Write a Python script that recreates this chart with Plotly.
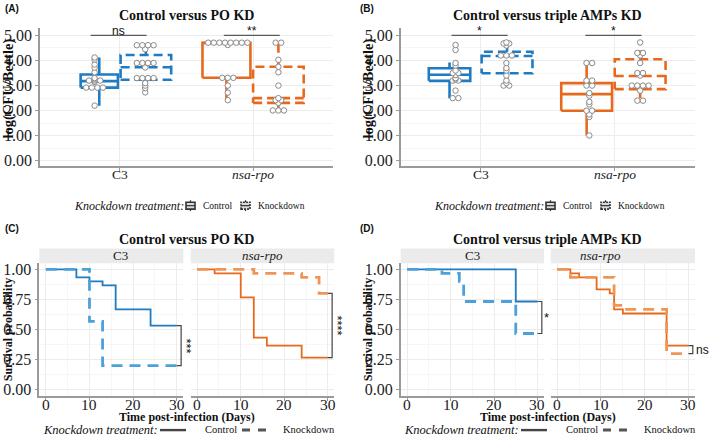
import plotly.graph_objects as go
import numpy as np

W, H = 709, 440
SERIF = "Times New Roman"
SANS = "Arial"

# ---------------- data ----------------
CATS = ["C3", "nsa-rpo"]
CAT_TICKS = ["C3", "<i>nsa-rpo</i>"]
BOX_TICKS = [0, 1, 2, 3, 4, 5]

# box stats per category: [lower whisker, q1, median, q3, upper whisker]
A_CTRL_STATS = [[2.20, 2.92, 3.18, 3.44, 4.12], [2.42, 3.31, 4.70, 4.71, 4.71]]
A_KD_STATS = [[2.73, 3.23, 3.73, 4.22, 4.61], [2.01, 2.31, 2.50, 3.75, 4.71]]
A_CTRL_PTS = [
    [4.12, 4.04, 3.84, 3.72, 3.53, 3.30, 3.25, 3.20, 3.20, 3.20, 3.15, 2.92, 2.92, 2.92, 2.92, 2.20],
    [4.71, 4.71, 4.71, 4.71, 4.71, 4.71, 4.71, 4.71, 4.62, 3.31, 3.31, 3.31, 3.00, 2.72, 2.42],
]
A_KD_PTS = [
    [4.61, 4.61, 4.61, 4.61, 4.45, 3.90, 3.90, 3.90, 3.90, 3.72, 3.30, 3.30, 3.30, 3.30, 3.10, 3.00, 2.90, 2.73],
    [4.71, 4.71, 4.03, 3.75, 3.53, 3.00, 2.50, 2.42, 2.42, 2.31, 2.01, 2.01, 2.01],
]

B_CTRL_STATS = [[2.50, 3.19, 3.43, 3.69, 3.92], [1.01, 2.00, 2.66, 3.10, 3.91]]
B_KD_STATS = [[3.00, 3.49, 4.18, 4.35, 4.73], [2.40, 2.86, 3.38, 4.05, 4.73]]
B_CTRL_PTS = [
    [4.62, 4.42, 3.90, 3.80, 3.60, 3.50, 3.50, 3.42, 3.30, 3.25, 3.20, 3.20, 2.80, 2.50, 2.50],
    [3.90, 3.90, 3.20, 3.20, 3.00, 3.00, 2.70, 2.60, 2.35, 2.25, 2.00, 2.00, 1.85, 1.75, 1.01],
]
B_KD_PTS = [
    [4.72, 4.68, 4.68, 4.60, 4.20, 4.20, 4.20, 3.90, 3.70, 3.60, 3.40, 3.20, 3.10, 3.00, 3.00],
    [4.72, 4.30, 4.30, 4.20, 3.90, 3.50, 3.50, 3.40, 3.00, 3.00, 3.00, 3.00, 2.80, 2.40, 2.40],
]
A_SIG = ["ns", "**"]
B_SIG = ["*", "*"]

# survival: step times and survival probabilities
C_C3_CTRL_T = [0, 7, 10, 13, 16, 24, 30]
C_C3_CTRL_S = [1.0, 0.933, 0.900, 0.867, 0.667, 0.533, 0.533]
C_C3_KD_T = [0, 10, 13, 30]
C_C3_KD_S = [1.0, 0.567, 0.200, 0.200]
C_NSA_CTRL_T = [0, 4, 10, 13, 16, 24, 30]
C_NSA_CTRL_S = [1.0, 0.967, 0.767, 0.433, 0.367, 0.267, 0.267]
C_NSA_KD_T = [0, 13, 24, 28, 30]
C_NSA_KD_S = [1.0, 0.967, 0.933, 0.800, 0.800]

D_C3_CTRL_T = [0, 25, 30]
D_C3_CTRL_S = [1.0, 0.733, 0.733]
D_C3_KD_T = [0, 8, 12, 13, 25, 30]
D_C3_KD_S = [1.0, 0.967, 0.900, 0.733, 0.467, 0.467]
D_NSA_CTRL_T = [0, 3, 5, 9, 12, 13, 15, 25, 30]
D_NSA_CTRL_S = [1.0, 0.967, 0.933, 0.833, 0.800, 0.667, 0.633, 0.367, 0.367]
D_NSA_KD_T = [0, 3, 13, 15, 25, 30]
D_NSA_KD_S = [1.0, 0.933, 0.700, 0.667, 0.300, 0.300]
C_SIG = ["***", "****"]
D_SIG = ["*", "ns"]
SURV_TICKS = [0, 0.25, 0.5, 0.75, 1.0]
DAY_TICKS = [0, 10, 20, 30]

# ---------------- style ----------------
BLUE = "#1f7bc2"
BLUE_L = "#4da1d9"
ORANGE = "#e6691d"
ORANGE_L = "#ef9657"
CAT_COLORS = [BLUE, ORANGE]
GRID = "#ececec"
AXLINE = "#9a9a9a"
BOX_DASH = "9px,5px"
SURV_DASH = "11px,7px"
# box geometry (offset of centre from category, width) per panel [cat][ctrl/kd]
A_BOX_GEOM = [[(-0.155, 0.28), (0.195, 0.38)], [(-0.20, 0.36), (0.19, 0.38)]]
B_BOX_GEOM = [[(-0.235, 0.31), (0.195, 0.38)], [(-0.21, 0.38), (0.19, 0.38)]]
PT_OFF = (-0.19, 0.19)

BOX_RANGE_X = [0.4, 2.6]
BOX_RANGE_Y = [-0.21, 5.28]
DAY_RANGE = [-1.5, 31.5]
SURV_RANGE = [-0.05, 1.05]

def fx(p):
    return p / W

def fy(p):
    return 1 - p / H

TOP_DOM_Y = [fy(166), fy(26.7)]
BOT_DOM_Y = [fy(398.3), fy(264.3)]
DOM = {
    "A": [fx(40), fx(333)],
    "B": [fx(400.7), fx(695)],
    "CL": [fx(39.3), fx(183.3)],
    "CR": [fx(190.7), fx(334.3)],
    "DL": [fx(400.7), fx(544)],
    "DR": [fx(550.7), fx(695)],
}

fig = go.Figure()


def swarm(vals, center, step=0.042):
    vals = np.round(np.asarray(vals, float), 2)
    xs, ys = [], []
    for v in sorted(set(vals.tolist())):
        n = int((vals == v).sum())
        for i in range(n):
            xs.append(center + (i - (n - 1) / 2) * step)
            ys.append(v)
    return xs, ys


def box_path(stats, xc, w):
    lo, q1, md, q3, hi = stats
    x0, x1 = xc - w / 2, xc + w / 2
    xs = [x0, x1, x1, x0, x0, None, x0, x1, None, xc, xc, None, xc, xc]
    ys = [q1, q1, q3, q3, q1, None, md, md, None, q3, hi, None, q1, lo]
    return xs, ys


def box_panel(xa, ya, ctrl_stats, kd_stats, ctrl_pts, kd_pts, geom, sig):
    for ci in range(len(CATS)):
        cat = ci + 1
        col = CAT_COLORS[ci]
        for k, (stats, dash) in enumerate([(ctrl_stats[ci], "solid"), (kd_stats[ci], BOX_DASH)]):
            off, w = geom[ci][k]
            bx, by = box_path(stats, cat + off, w)
            fig.add_trace(go.Scatter(x=bx, y=by, mode="lines", xaxis=xa, yaxis=ya,
                                     line=dict(color=col, width=2.6, dash=dash),
                                     showlegend=False, hoverinfo="skip"))
        for k, pts in enumerate([ctrl_pts[ci], kd_pts[ci]]):
            px_, py_ = swarm(pts, cat + PT_OFF[k])
            fig.add_trace(go.Scatter(x=px_, y=py_, mode="markers", xaxis=xa, yaxis=ya,
                                     marker=dict(symbol="circle", size=5.5, color="white",
                                                 line=dict(color="#8a8a8a", width=1)),
                                     showlegend=False, hoverinfo="skip", cliponaxis=False))
        # significance bar
        fig.add_trace(go.Scatter(x=[cat - 0.22, cat + 0.2], y=[5.0, 5.0], mode="lines",
                                 xaxis=xa, yaxis=ya, line=dict(color="#5a5a5a", width=1.3),
                                 showlegend=False, hoverinfo="skip"))
        fig.add_annotation(x=cat - 0.01, y=5.0, xref=xa, yref=ya, text=sig[ci], showarrow=False,
                           yanchor="bottom", yshift=-5, font=dict(family=SANS, size=12, color="#111"))
        # category label (axis tick label)
        fig.add_annotation(x=cat, y=fy(174.5), xref=xa, yref="paper", text=CAT_TICKS[ci], showarrow=False,
                           yanchor="middle", font=dict(family=SERIF, size=13.5, color="#222"))


box_panel("x", "y", A_CTRL_STATS, A_KD_STATS, A_CTRL_PTS, A_KD_PTS, A_BOX_GEOM, A_SIG)
box_panel("x2", "y2", B_CTRL_STATS, B_KD_STATS, B_CTRL_PTS, B_KD_PTS, B_BOX_GEOM, B_SIG)


def surv(xa, ya, t, s, color, dash, width):
    fig.add_trace(go.Scatter(x=t, y=s, mode="lines", line_shape="hv", xaxis=xa, yaxis=ya,
                             line=dict(color=color, width=width, dash=dash),
                             showlegend=False, hoverinfo="skip"))


def to_paper(v, dom, rng):
    return dom[0] + (v - rng[0]) / (rng[1] - rng[0]) * (dom[1] - dom[0])


def bracket(xa, ya, s1, s2, label, dom_x, textangle, xshift, size):
    fig.add_trace(go.Scatter(x=[30, 31, 31, 30], y=[s1, s1, s2, s2], mode="lines", xaxis=xa, yaxis=ya,
                             line=dict(color="#444", width=1.2), showlegend=False, hoverinfo="skip"))
    px_ = to_paper(31, dom_x, DAY_RANGE)
    py_ = to_paper((s1 + s2) / 2, BOT_DOM_Y, SURV_RANGE)
    fig.add_annotation(x=px_, y=py_, xref="paper", yref="paper", text=label, showarrow=False,
                       textangle=textangle, xanchor="center", yanchor="middle", xshift=xshift,
                       font=dict(family=SANS, size=size, color="#111"))


surv("x3", "y3", C_C3_CTRL_T, C_C3_CTRL_S, BLUE, "solid", 1.8)
surv("x3", "y3", C_C3_KD_T, C_C3_KD_S, BLUE_L, SURV_DASH, 2.8)
surv("x4", "y4", C_NSA_CTRL_T, C_NSA_CTRL_S, ORANGE, "solid", 1.8)
surv("x4", "y4", C_NSA_KD_T, C_NSA_KD_S, ORANGE_L, SURV_DASH, 2.8)
surv("x5", "y5", D_C3_CTRL_T, D_C3_CTRL_S, BLUE, "solid", 1.8)
surv("x5", "y5", D_C3_KD_T, D_C3_KD_S, BLUE_L, SURV_DASH, 2.8)
surv("x6", "y6", D_NSA_CTRL_T, D_NSA_CTRL_S, ORANGE, "solid", 1.8)
surv("x6", "y6", D_NSA_KD_T, D_NSA_KD_S, ORANGE_L, SURV_DASH, 2.8)

bracket("x3", "y3", C_C3_CTRL_S[-1], C_C3_KD_S[-1], C_SIG[0], DOM["CL"], 90, 5, 13)
bracket("x4", "y4", C_NSA_KD_S[-1], C_NSA_CTRL_S[-1], C_SIG[1], DOM["CR"], 90, 5, 13)
bracket("x5", "y5", D_C3_CTRL_S[-1], D_C3_KD_S[-1], D_SIG[0], DOM["DL"], 0, 5, 13)
bracket("x6", "y6", D_NSA_CTRL_S[-1], D_NSA_KD_S[-1], D_SIG[1], DOM["DR"], 0, 10, 12)

# ---------------- axes ----------------
tickfont = dict(family=SERIF, size=16, color="#222")
common = dict(showline=True, linecolor=AXLINE, linewidth=1.5, ticks="outside", ticklen=3,
              tickcolor=AXLINE, tickwidth=1, gridcolor=GRID, gridwidth=1, zeroline=False,
              tickfont=tickfont, fixedrange=True)

for xa, ya, key in [("xaxis", "yaxis", "A"), ("xaxis2", "yaxis2", "B")]:
    fig.layout[xa] = dict(domain=DOM[key], range=BOX_RANGE_X, tickvals=[1, 2], showticklabels=False,
                          anchor=ya.replace("axis", ""), **common)
    fig.layout[ya] = dict(domain=TOP_DOM_Y, range=BOX_RANGE_Y, tickvals=BOX_TICKS, tickformat=".2f",
                          anchor=xa.replace("axis", ""), minor=dict(dtick=0.5, showgrid=True, gridcolor="#f6f6f6"),
                          **common)

for i, key in [(3, "CL"), (4, "CR"), (5, "DL"), (6, "DR")]:
    fig.layout[f"xaxis{i}"] = dict(domain=DOM[key], range=DAY_RANGE, tickvals=DAY_TICKS, showticklabels=False,
                                   anchor=f"y{i}", minor=dict(dtick=5, showgrid=True, gridcolor="#f6f6f6"),
                                   **common)
    for d in DAY_TICKS:
        fig.add_annotation(x=d, y=fy(407), xref=f"x{i}", yref="paper", text=str(d), showarrow=False,
                           yanchor="middle", font=dict(family=SERIF, size=15.5, color="#222"))
    left = key.endswith("L")
    yax = dict(domain=BOT_DOM_Y, range=SURV_RANGE, tickvals=SURV_TICKS, tickformat=".2f",
               anchor=f"x{i}", minor=dict(dtick=0.125, showgrid=True, gridcolor="#f6f6f6"), **common)
    if not left:
        yax.update(showticklabels=False, showline=False, ticks="")
    fig.layout[f"yaxis{i}"] = yax

# ---------------- text, strips, legends ----------------
def ann(x, y, text, size, family=SERIF, bold=False, italic=False, xanchor="center", angle=0, color="#111"):
    if bold:
        text = f"<b>{text}</b>"
    if italic:
        text = f"<i>{text}</i>"
    fig.add_annotation(x=fx(x), y=fy(y), xref="paper", yref="paper", text=text, showarrow=False,
                       xanchor=xanchor, yanchor="middle", textangle=angle,
                       font=dict(family=family, size=size, color=color))

ann(3, 7, "(A)", 10, SANS, bold=True, xanchor="left")
ann(358, 7, "(B)", 10, SANS, bold=True, xanchor="left")
ann(3, 229, "(C)", 10, SANS, bold=True, xanchor="left")
ann(358, 229, "(D)", 10, SANS, bold=True, xanchor="left")
ann(186.5, 14, "Control versus PO KD", 14, bold=True)
ann(547, 14, "Control versus triple AMPs KD", 14, bold=True)
ann(186.5, 240, "Control versus PO KD", 14, bold=True)
ann(547, 240, "Control versus triple AMPs KD", 14, bold=True)
ann(8.5, 88, "log(CFU/Beetle)", 14.5, bold=True, angle=-90)
ann(368.5, 88, "log(CFU/Beetle)", 14.5, bold=True, angle=-90)
ann(8, 332, "Survival probability", 12, bold=True, angle=-90)
ann(368, 332, "Survival probability", 12, bold=True, angle=-90)
ann(187, 420, "Time post-infection (Days)", 12, bold=True)
ann(548, 420, "Time post-infection (Days)", 12, bold=True)

# strips
for key in ["CL", "CR", "DL", "DR"]:
    d = DOM[key]
    fig.add_shape(type="rect", xref="paper", yref="paper", x0=d[0], x1=d[1], y0=fy(264.3), y1=fy(249.3),
                  fillcolor="#ebebeb", line=dict(width=0), layer="below")
    label = CAT_TICKS[0] if key.endswith("L") else CAT_TICKS[1]
    fig.add_annotation(x=(d[0] + d[1]) / 2, y=fy(256.8), xref="paper", yref="paper", text=label,
                       showarrow=False, font=dict(family=SERIF, size=13, color="#222"))

# box legends
def box_icon(x, y, dash):
    w, h = 9, 7
    fig.add_shape(type="rect", xref="paper", yref="paper", x0=fx(x), x1=fx(x + w), y0=fy(y + h / 2),
                  y1=fy(y - h / 2), line=dict(color="#333", width=1.6, dash=dash), fillcolor="#d9d9d9")
    fig.add_shape(type="line", xref="paper", yref="paper", x0=fx(x), x1=fx(x + w), y0=fy(y), y1=fy(y),
                  line=dict(color="#333", width=1.2))
    fig.add_shape(type="line", xref="paper", yref="paper", x0=fx(x + w / 2), x1=fx(x + w / 2),
                  y0=fy(y - h / 2 - 2), y1=fy(y - h / 2), line=dict(color="#333", width=1.2))
    fig.add_shape(type="line", xref="paper", yref="paper", x0=fx(x + w / 2), x1=fx(x + w / 2),
                  y0=fy(y + h / 2), y1=fy(y + h / 2 + 2), line=dict(color="#333", width=1.2))

for ox in [0, 360]:
    ann(72 + ox, 206, "Knockdown treatment:", 12, italic=True, xanchor="left")
    box_icon(186 + ox, 206, "solid")
    ann(201 + ox, 206, "Control", 9.5, xanchor="left")
    box_icon(241 + ox, 206, "2px,1px")
    ann(256 + ox, 206, "Knockdown", 9.5, xanchor="left")

# survival legends
for ox in [0, 361]:
    ann(41 + ox, 433, "Knockdown treatment:", 12.5, italic=True, xanchor="left")
    fig.add_shape(type="line", xref="paper", yref="paper", x0=fx(160 + ox), x1=fx(186 + ox), y0=fy(433),
                  y1=fy(433), line=dict(color="#444", width=2.4))
    ann(203 + ox, 432, "Control", 10.5, xanchor="left")
    fig.add_shape(type="line", xref="paper", yref="paper", x0=fx(242 + ox), x1=fx(268 + ox), y0=fy(433),
                  y1=fy(433), line=dict(color="#555", width=3, dash="8px,8px"))
    ann(281 + ox, 432, "Knockdown", 10.5, xanchor="left")

fig.update_layout(width=W, height=H, margin=dict(l=0, r=0, t=0, b=0), paper_bgcolor="white",
                  plot_bgcolor="white", showlegend=False)

fig.write_html("out.html")
